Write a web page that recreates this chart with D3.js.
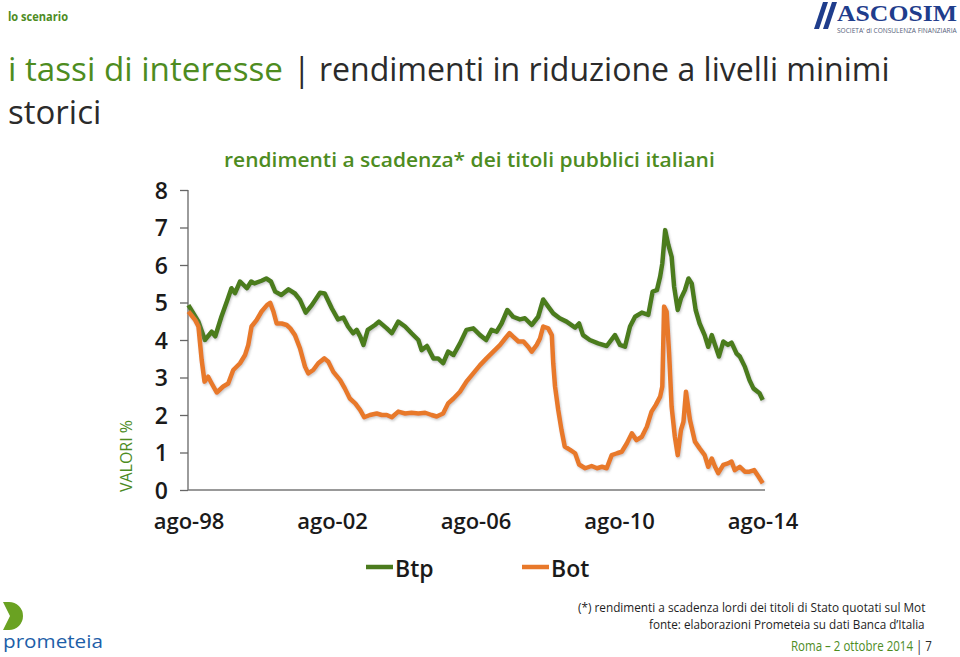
<!DOCTYPE html>
<html><head><meta charset="utf-8">
<script src="https://cdn.jsdelivr.net/npm/d3@7/dist/d3.min.js"></script>
<style>
html,body{margin:0;padding:0;background:#fff;}
svg{display:block;font-family:"Open Sans",sans-serif;}
</style></head>
<body>
<svg id="c" width="960" height="657"></svg>
<script>
// ---- data (decimal year, percent) ----
const btpYear = [1998.58,1998.86,1999.04,1999.23,1999.33,1999.50,1999.65,1999.78,1999.88,2000.02,2000.21,2000.33,2000.42,2000.62,2000.75,2000.88,2001.00,2001.17,2001.37,2001.55,2001.69,2001.85,2002.02,2002.25,2002.38,2002.58,2002.75,2002.90,2003.03,2003.17,2003.27,2003.37,2003.46,2003.58,2003.78,2003.89,2004.11,2004.25,2004.43,2004.62,2004.80,2004.99,2005.08,2005.23,2005.41,2005.54,2005.68,2005.82,2005.97,2006.15,2006.33,2006.52,2006.71,2006.88,2007.03,2007.17,2007.31,2007.47,2007.63,2007.82,2007.96,2008.15,2008.33,2008.47,2008.61,2008.75,2008.93,2009.12,2009.36,2009.47,2009.58,2009.77,2010.00,2010.24,2010.47,2010.61,2010.75,2010.89,2011.03,2011.22,2011.40,2011.52,2011.64,2011.73,2011.79,2011.87,2011.96,2012.05,2012.12,2012.22,2012.31,2012.42,2012.52,2012.61,2012.72,2012.83,2012.97,2013.07,2013.17,2013.26,2013.37,2013.49,2013.62,2013.72,2013.86,2013.95,2014.09,2014.22,2014.33,2014.50,2014.59];
const btpValue = [4.93,4.49,4.00,4.22,4.10,4.62,5.02,5.38,5.25,5.56,5.38,5.56,5.51,5.58,5.64,5.56,5.29,5.20,5.35,5.24,5.07,4.73,4.93,5.26,5.24,4.84,4.55,4.60,4.36,4.18,4.27,4.09,3.87,4.27,4.40,4.49,4.31,4.18,4.49,4.36,4.18,4.00,3.73,3.84,3.51,3.51,3.38,3.69,3.60,3.91,4.27,4.31,4.13,4.00,4.27,4.22,4.44,4.80,4.62,4.55,4.58,4.40,4.62,5.08,4.89,4.71,4.58,4.49,4.33,4.44,4.13,4.00,3.91,3.84,4.13,3.87,3.82,4.36,4.62,4.73,4.67,5.29,5.33,5.69,6.04,6.93,6.53,6.22,5.42,4.80,5.11,5.33,5.64,5.51,4.80,4.44,4.13,3.82,4.13,3.87,3.56,3.96,3.87,3.93,3.64,3.56,3.29,2.93,2.71,2.58,2.40];
const botYear = [1998.58,1998.77,1998.86,1998.95,1999.03,1999.13,1999.23,1999.37,1999.55,1999.69,1999.83,2000.02,2000.16,2000.25,2000.34,2000.48,2000.62,2000.77,2000.86,2000.95,2001.04,2001.18,2001.32,2001.42,2001.55,2001.69,2001.83,2001.92,2002.06,2002.20,2002.37,2002.48,2002.62,2002.81,2002.94,2003.08,2003.23,2003.37,2003.48,2003.64,2003.83,2003.97,2004.11,2004.25,2004.43,2004.62,2004.80,2004.99,2005.18,2005.36,2005.50,2005.68,2005.82,2005.97,2006.15,2006.33,2006.52,2006.71,2006.89,2007.08,2007.27,2007.41,2007.53,2007.63,2007.78,2007.92,2008.05,2008.15,2008.29,2008.38,2008.47,2008.61,2008.71,2008.75,2008.80,2008.89,2008.98,2009.07,2009.22,2009.36,2009.47,2009.64,2009.82,2009.97,2010.11,2010.24,2010.38,2010.53,2010.66,2010.80,2010.94,2011.07,2011.22,2011.36,2011.49,2011.61,2011.73,2011.79,2011.84,2011.91,2011.98,2012.05,2012.14,2012.22,2012.31,2012.38,2012.45,2012.56,2012.70,2012.83,2012.97,2013.07,2013.17,2013.26,2013.35,2013.49,2013.62,2013.72,2013.81,2013.95,2014.09,2014.22,2014.35,2014.47,2014.59];
const botValue = [4.76,4.53,4.36,3.47,2.89,3.02,2.84,2.60,2.76,2.84,3.20,3.38,3.60,3.87,4.36,4.53,4.76,4.93,4.99,4.76,4.44,4.44,4.40,4.31,4.13,3.78,3.29,3.11,3.20,3.38,3.51,3.42,3.15,2.93,2.71,2.44,2.31,2.13,1.94,2.00,2.04,2.00,2.00,1.94,2.09,2.04,2.06,2.04,2.06,2.00,1.96,2.04,2.31,2.44,2.62,2.89,3.11,3.33,3.51,3.69,3.87,4.04,4.18,4.09,3.96,3.96,3.82,3.69,3.87,4.04,4.36,4.31,4.13,3.38,2.76,2.13,1.60,1.16,1.07,0.98,0.68,0.58,0.64,0.58,0.62,0.58,0.93,0.98,1.02,1.24,1.51,1.33,1.42,1.69,2.09,2.27,2.49,2.76,4.89,4.76,3.64,2.22,1.42,0.93,1.60,1.82,2.62,1.87,1.29,1.11,0.93,0.62,0.84,0.62,0.45,0.67,0.71,0.76,0.53,0.62,0.49,0.49,0.53,0.36,0.18];
const seriesNames = ["Btp","Bot"];
const xTickValues = [1998.583,2002.583,2006.583,2010.583,2014.583];
const xTickLabels = ["ago-98","ago-02","ago-06","ago-10","ago-14"];
const yTickValues = [0,1,2,3,4,5,6,7,8];

const GREEN = "#4e8c1f", DARK = "#2b2b2b";
const BTP_COL = "#4b7b1e", BOT_COL = "#e8792b";

const svg = d3.select("#c");
const defs = svg.append("defs");
const f = defs.append("filter").attr("id","sh").attr("x","-5%").attr("y","-5%").attr("width","110%").attr("height","110%");
f.append("feDropShadow").attr("dx",1).attr("dy",1.5).attr("stdDeviation",1.2).attr("flood-color","#888").attr("flood-opacity",0.45);

// text placed at (x,y) and horizontally scaled so that its width equals w (if given)
function txt(x,y,parts,o){
  const t = svg.append("text").attr("x",0).attr("y",0)
    .attr("font-size",o.size).attr("font-weight",o.weight||400);
  if(o.family) t.attr("font-family",o.family);
  (Array.isArray(parts)?parts:[[parts,o.fill||DARK]]).forEach(p=>t.append("tspan").attr("fill",p[1]).text(p[0]));
  let sx = 1;
  if(o.len){ const w = t.node().getComputedTextLength(); sx = o.len / w; }
  t.attr("transform",`translate(${x},${y}) scale(${sx.toFixed(4)},1)`);
  return t;
}

// header
txt(8,21,"lo scenario",{size:12.5,weight:700,fill:GREEN,len:60});
txt(8,81,"i tassi di interesse",{size:33,fill:GREEN,len:275});
txt(293,81,"| rendimenti in riduzione a livelli minimi",{size:33,fill:DARK,len:597});
txt(8,124,"storici",{size:33,fill:DARK});

// ASCOSIM logo
svg.append("path").attr("d","M814,29 L823,2 L828,2 L819,29 Z M823,29 L832,2 L837,2 L828,29 Z").attr("fill","#1f3d8c");
txt(837,21,"ASCOSIM",{size:23,weight:700,fill:"#1f3d8c",family:"Liberation Serif, serif",len:120});
txt(837,33,"SOCIETA' di CONSULENZA FINANZIARIA",{size:6.5,fill:"#55607a",len:120});

// chart subtitle
txt(224,167,"rendimenti a scadenza* dei titoli pubblici italiani",{size:19,weight:600,fill:GREEN,len:491});

// scales
const x = d3.scaleLinear().domain([1998.583,2014.583]).range([188.5,762.5]);
const y = d3.scaleLinear().domain([0,8]).range([490,190]);

// y axis
const ya = svg.append("g").attr("transform","translate(188,0)")
  .call(d3.axisLeft(y).tickValues(yTickValues).tickSize(8).tickPadding(12).tickFormat(d3.format("d")));
ya.select(".domain").attr("stroke","#666").attr("stroke-width",1.3).attr("d","M0,190V490");
ya.selectAll(".tick line").attr("stroke","#666").attr("stroke-width",1.3);
ya.selectAll(".tick text").attr("font-size",23).attr("font-weight",600).attr("fill","#1a1a1a").attr("font-family","Open Sans").attr("dy","0.36em");

// x axis
const xa = svg.append("g").attr("transform","translate(0,490)")
  .call(d3.axisBottom(x).tickValues(xTickValues).tickSize(0).tickPadding(23).tickFormat((d,i)=>xTickLabels[i]));
xa.select(".domain").attr("stroke","#777").attr("stroke-width",1.3).attr("d","M188,0H765");
xa.selectAll(".tick text").attr("font-size",22).attr("font-weight",600).attr("fill","#1a1a1a").attr("font-family","Open Sans").attr("dy","0.71em");

// VALORI %
svg.append("text").attr("transform","translate(132,456) rotate(-90)").attr("text-anchor","middle")
  .attr("font-size",17).attr("fill",GREEN).attr("textLength",72).attr("lengthAdjust","spacingAndGlyphs").text("VALORI %");

// lines
const line = d3.line().x(d=>x(d[0])).y(d=>y(d[1]));
const btp = btpYear.map((t,i)=>[t,btpValue[i]]);
const bot = botYear.map((t,i)=>[t,botValue[i]]);
svg.append("path").datum(btp).attr("d",line).attr("fill","none").attr("stroke",BTP_COL).attr("stroke-width",4.5).attr("stroke-linejoin","round").attr("filter","url(#sh)");
svg.append("path").datum(bot).attr("d",line).attr("fill","none").attr("stroke",BOT_COL).attr("stroke-width",4.5).attr("stroke-linejoin","round").attr("filter","url(#sh)");

// legend
const legX = [366,522], legCol=[BTP_COL,BOT_COL];
seriesNames.forEach((n,i)=>{
  svg.append("line").attr("x1",legX[i]).attr("x2",legX[i]+27).attr("y1",567).attr("y2",567).attr("stroke",legCol[i]).attr("stroke-width",4.5);
  txt(legX[i]+29,577,n,{size:23,weight:600,fill:"#1a1a1a"});
});

// footnotes
txt(578,612,"(*) rendimenti a scadenza lordi dei titoli di Stato quotati sul Mot",{size:13.5,len:348,fill:"#1e1e1e"});
txt(649,629,"fonte: elaborazioni Prometeia su dati Banca d\u2019Italia",{size:13.5,len:276,fill:"#1e1e1e"});
txt(791,651,[["Roma \u2013 2 ottobre 2014 ",GREEN],["| 7",DARK]],{size:14,len:141});

// prometeia logo
svg.append("path").attr("d","M3,602 L9,602 A14,14 0 0 1 9,630 L3,630 L10,616 Z").attr("fill","#6aa222");
txt(3,648,"prometeia",{size:19,fill:"#1d5ea8",len:100});
</script>
</body></html>
